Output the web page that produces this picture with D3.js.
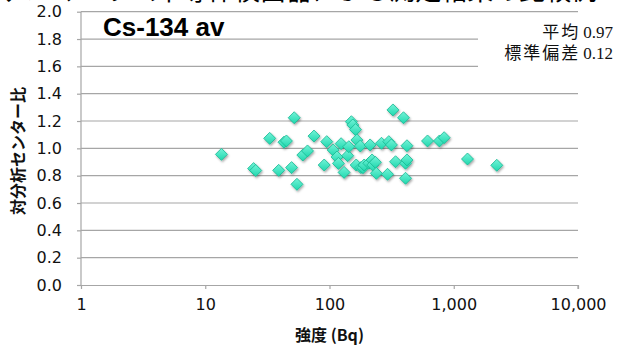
<!DOCTYPE html>
<html lang="ja">
<head>
    <meta charset="UTF-8">
    <title>Cs-134 av 対分析センター比</title>
    <script src="https://d3js.org/d3.v7.min.js"></script>
    <style>
        body { margin: 0; background: #fff; }
        svg { display: block; }
        .tick-label { font-family: "DejaVu Sans", sans-serif; font-size: 16px; fill: #111; }
        .axis-title { font-family: "Noto Sans CJK JP", "DejaVu Sans", sans-serif; font-weight: bold; font-size: 16px; fill: #111; }
        .grid { stroke: #a6a6a6; stroke-width: 1.2; }
    </style>
</head>
<body>
    <div id="chart"></div>

    <script>
        // values
        const intensity = [13.5, 24.5, 25.5, 33, 39, 43, 45, 49.5, 52, 54.7,
            61, 66.5, 75, 90.6, 95, 107, 115, 118, 124, 131,
            140, 143, 150, 154, 162, 164, 166, 177, 179, 186,
            190, 207, 212, 220, 223, 234, 238, 262, 293, 300,
            315, 324, 340, 394, 409, 409, 420, 420, 615, 767,
            837, 1290, 2220];
        const ratio = [0.956, 0.852, 0.838, 1.073, 0.839, 1.045, 1.054, 0.859, 1.224, 0.737,
            0.951, 0.981, 1.09, 0.878, 1.049, 0.988, 0.937, 0.89, 1.034, 0.824,
            0.946, 1.012, 1.195, 1.171, 1.137, 0.878, 1.061, 1.017, 0.859, 0.858,
            0.878, 0.891, 1.025, 0.915, 0.878, 0.898, 0.817, 1.037, 0.810, 1.049,
            1.025, 1.281, 0.902, 1.224, 0.891, 0.781, 0.915, 1.019, 1.054, 1.054,
            1.078, 0.922, 0.876];

        const xTicks = [1, 10, 100, 1000, 10000];
        const yTicks = [0, 0.2, 0.4, 0.6, 0.8, 1.0, 1.2, 1.4, 1.6, 1.8, 2.0];
        const seriesName = 'Cs-134 av';
        const statsLabels = ['平均', '標準偏差'];
        const statsValues = ['0.97', '0.12'];

        const width = 618;
        const height = 347;
        const plotL = 81, plotR = 578, plotT = 11.7, plotB = 285;

        const svg = d3.select('#chart').append('svg')
            .attr('width', width)
            .attr('height', height);

        const defs = svg.append('defs');
        const grad = defs.append('linearGradient')
            .attr('id', 'mk').attr('x1', 0).attr('y1', 0).attr('x2', 0).attr('y2', 1);
        grad.append('stop').attr('offset', '0%').attr('stop-color', '#74f3d8');
        grad.append('stop').attr('offset', '100%').attr('stop-color', '#1fd8ae');
        defs.append('filter').attr('id', 'shadow')
            .attr('x', '-50%').attr('y', '-50%').attr('width', '200%').attr('height', '200%')
            .append('feDropShadow')
            .attr('dx', 1).attr('dy', 1.5).attr('stdDeviation', 1)
            .attr('flood-color', '#000').attr('flood-opacity', 0.35);

        const x = d3.scaleLog().domain([1, 10000]).range([plotL, plotR]);
        const y = d3.scaleLinear().domain([0, 2]).range([plotB, plotT]);

        // horizontal gridlines
        svg.append('g')
            .selectAll('line')
            .data(yTicks.filter(d => d > 0))
            .enter().append('line')
            .attr('class', 'grid')
            .attr('x1', plotL).attr('x2', plotR)
            .attr('y1', d => y(d)).attr('y2', d => y(d));

        // y axis
        const yAxis = svg.append('g')
            .attr('transform', `translate(${plotL},0)`)
            .call(d3.axisLeft(y).tickValues(yTicks).tickSize(4).tickPadding(15)
                .tickFormat(d3.format('.1f')));
        yAxis.select('.domain').attr('stroke', '#a6a6a6').attr('stroke-width', 1.2)
            .attr('d', `M0,${plotT}V${plotB}`);
        yAxis.selectAll('.tick line').attr('stroke', '#a6a6a6').attr('stroke-width', 1.2);
        yAxis.selectAll('.tick text').attr('class', 'tick-label').attr('fill', null);

        // x axis
        const xAxis = svg.append('g')
            .attr('transform', `translate(0,${plotB})`)
            .call(d3.axisBottom(x).tickValues(xTicks).tickSize(4).tickPadding(10)
                .tickFormat(d3.format(',')));
        xAxis.select('.domain').attr('stroke', '#a6a6a6').attr('stroke-width', 1.2)
            .attr('d', `M${plotL - 4},0.5H${plotR}V4`);
        xAxis.selectAll('.tick line').attr('stroke', '#a6a6a6').attr('stroke-width', 1.2);
        xAxis.selectAll('.tick text').attr('class', 'tick-label').attr('fill', null);

        // points
        const points = intensity.map((v, i) => ({ v: v, r: ratio[i] }));
        const diamond = 'M0,-6L6,0L0,6L-6,0Z';
        svg.append('g')
            .attr('filter', 'url(#shadow)')
            .selectAll('path')
            .data(points)
            .enter().append('path')
            .attr('d', diamond)
            .attr('transform', d => `translate(${x(d.v)},${y(d.r)})`)
            .attr('fill', 'url(#mk)')
            .attr('stroke', '#15b892')
            .attr('stroke-width', 0.8);

        // axis titles
        svg.append('text')
            .attr('class', 'axis-title')
            .attr('x', (plotL + plotR) / 2)
            .attr('y', 341)
            .attr('text-anchor', 'middle')
            .text('強度 (Bq)');

        svg.append('text')
            .attr('class', 'axis-title')
            .attr('transform', 'translate(24,151) rotate(-90)')
            .attr('text-anchor', 'middle')
            .text('対分析センター比');

        // series label
        svg.append('text')
            .attr('x', 103)
            .attr('y', 36)
            .attr('font-family', '"Liberation Sans", Arial, sans-serif')
            .attr('font-weight', 'bold')
            .attr('font-size', 26)
            .attr('fill', '#000')
            .text(seriesName);

        // stats box
        svg.append('rect')
            .attr('x', 478).attr('y', 16)
            .attr('width', 140).attr('height', 57)
            .attr('fill', '#fff');
        const stats = svg.append('g');
        statsLabels.forEach((lab, i) => {
            const t = stats.append('text')
                .attr('x', 613)
                .attr('y', 38 + i * 21)
                .attr('text-anchor', 'end')
                .attr('font-size', 17)
                .attr('fill', '#111');
            t.append('tspan')
                .attr('font-family', '"Noto Sans CJK JP", sans-serif')
                .attr('letter-spacing', 2)
                .text(lab);
            t.append('tspan')
                .attr('font-family', '"Liberation Serif", serif')
                .attr('dx', 3)
                .text(statsValues[i]);
        });

        // page heading, clipped by the top of the window
        svg.append('text')
            .attr('x', 0)
            .attr('y', 0)
            .attr('font-family', '"Noto Sans CJK JP", sans-serif')
            .attr('font-size', 26)
            .attr('fill', '#000')
            .text('ゲルマニウム半導体検出器による測定結果の比較例');
    </script>
</body>
</html>
